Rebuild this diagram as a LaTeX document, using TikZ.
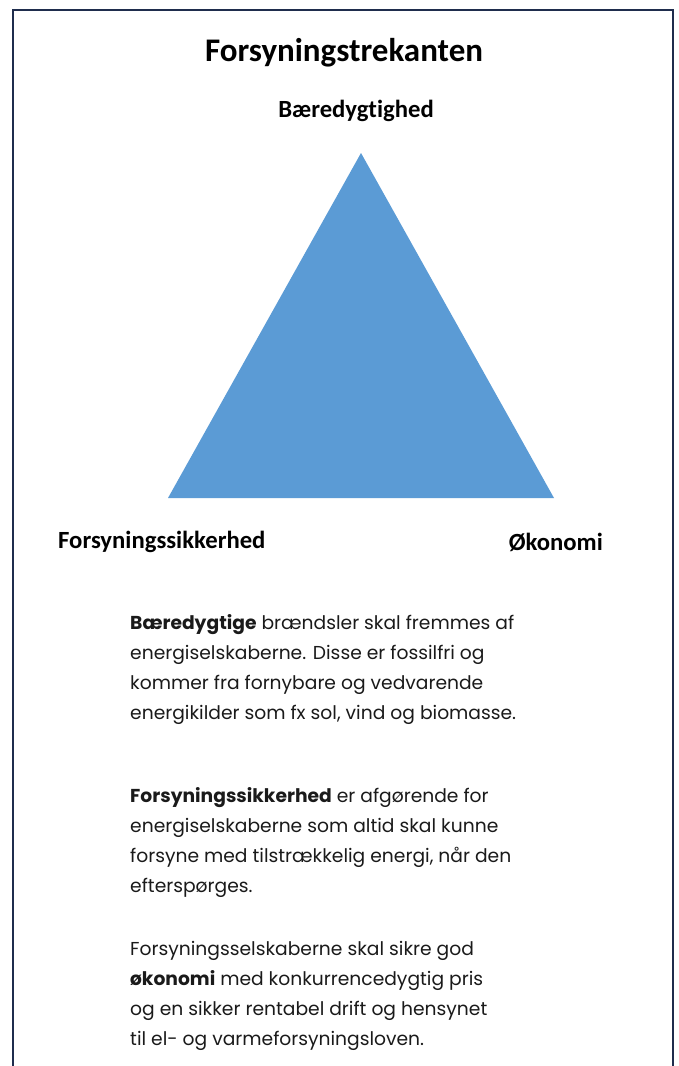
\documentclass[tikz,border=0pt]{standalone}
\usepackage{fontspec}
\setmainfont{Poppins}
\newfontfamily\calib[Ligatures=NoCommon]{Carlito}
\definecolor{framecol}{HTML}{1F2D4D}
\definecolor{triblue}{HTML}{5B9BD5}
\definecolor{txt}{HTML}{1A1A1A}
\tikzset{
  heading/.style={font=\calib\bfseries\fontsize{33}{38}\selectfont, text=black, inner sep=0pt},
  cornerlbl/.style={font=\calib\bfseries\fontsize{24.7}{28}\selectfont, text=black, inner sep=0pt},
  bodytext/.style={font=\fontsize{18.7}{30}\selectfont, text=txt, align=left, inner sep=0pt, anchor=north west}
}
\begin{document}
\begin{tikzpicture}[x=1pt,y=-1pt]
\useasboundingbox (0,0) rectangle (678,1066);
\fill[white] (0,0) rectangle (678,1066);
\draw[framecol, line width=2.6pt] (13,1070) -- (13,10) -- (673,10) -- (673,1070);
\node[heading] (title) at (344,53) {Forsyningstrekanten};
\node[cornerlbl] (top) at (356,111) {Bæredygtighed};
\coordinate (apex) at (361,153);
\coordinate (bl) at (168,498);
\coordinate (br) at (554,498);
\fill[triblue] (apex) -- (br) -- (bl) -- cycle;
\node[cornerlbl, anchor=west] (left) at (58,542) {Forsyningssikkerhed};
\node[cornerlbl, anchor=east] (right) at (603,542) {Økonomi};
\node[bodytext] (p1) at (130,614) {\textbf{Bæredygtige} brændsler skal fremmes af\\energiselskaberne. Disse er fossilfri og\\kommer fra fornybare og vedvarende\\energikilder som fx sol, vind og biomasse.};
\node[bodytext] (p2) at (130,787) {\textbf{Forsyningssikkerhed} er afgørende for\\energiselskaberne som altid skal kunne\\forsyne med tilstrækkelig energi, når den\\efterspørges.};
\node[bodytext] (p3) at (130,941) {Forsyningsselskaberne skal sikre god\\\textbf{økonomi} med konkurrencedygtig pris\\og en sikker rentabel drift og hensynet\\til el- og varmeforsyningsloven.};
\end{tikzpicture}
\end{document}
